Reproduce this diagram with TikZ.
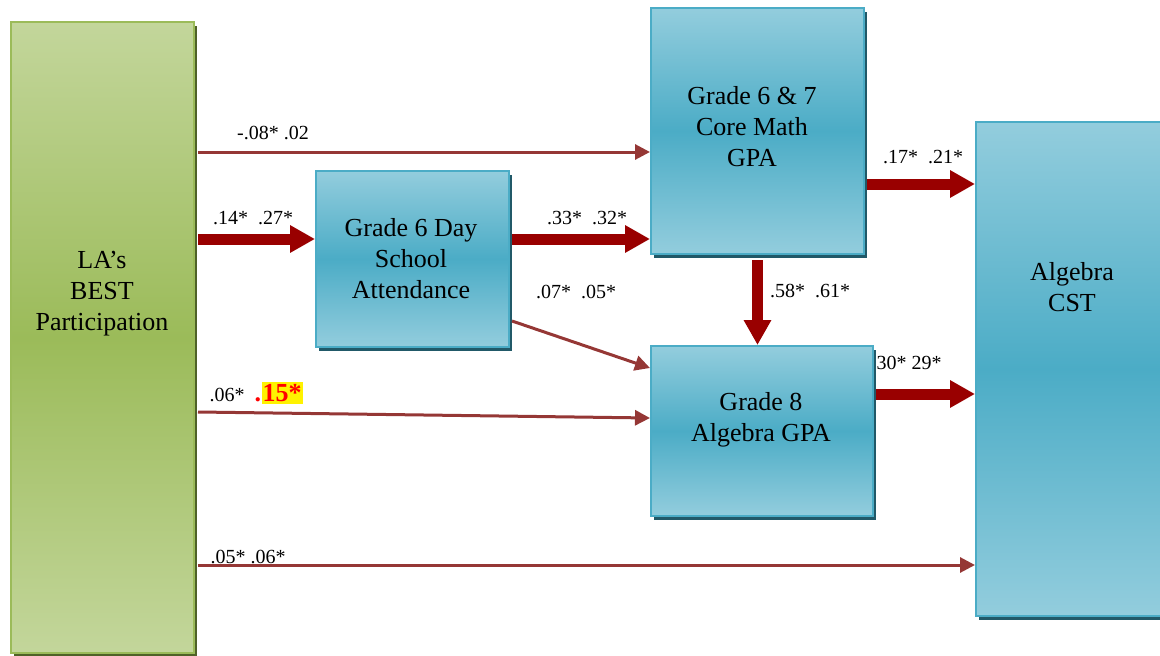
\documentclass[tikz,border=0pt]{standalone}
\usepackage{fontspec}
\setmainfont{Liberation Serif}
\usetikzlibrary{arrows.meta,shadows}
\definecolor{bluetop}{HTML}{93CDDD}
\definecolor{bluemid}{HTML}{4BACC6}
\definecolor{blueedge}{HTML}{4BACC6}
\definecolor{blueshadow}{HTML}{215968}
\definecolor{greentop}{HTML}{C3D69B}
\definecolor{greenmid}{HTML}{9BBB59}
\definecolor{greenshadow}{HTML}{4F6228}
\definecolor{thickred}{HTML}{990000}
\definecolor{thinred}{HTML}{953735}
\begin{document}
\begin{tikzpicture}[x=1pt,y=-1pt,
  bluebox/.style={draw=blueedge, line width=2pt, top color=bluetop, bottom color=bluetop, middle color=bluemid,
    anchor=north west, inner sep=0pt,
    drop shadow={shadow xshift=3pt,shadow yshift=-4pt,fill=blueshadow,opacity=1}},
  greenbox/.style={draw=greenmid, line width=2pt, top color=greentop, bottom color=greentop, middle color=greenmid,
    anchor=north west, inner sep=0pt,
    drop shadow={shadow xshift=3pt,shadow yshift=-4pt,fill=greenshadow,opacity=1}},
  boxtext/.style={font=\fontsize{26}{31}\selectfont, align=center, inner sep=0pt},
  lab/.style={font=\fontsize{20}{24}\selectfont, inner sep=0pt},
  thinarrow/.style={draw=thinred, line width=3pt, -{Triangle[length=15pt,width=15pt]}},
  thickarrow/.style={draw=thickred, line width=11pt, -{Triangle[length=25pt,width=26pt]}}]
\useasboundingbox (0,0) rectangle (1160,656);

% boxes
\node[greenbox, minimum width=183pt, minimum height=631pt] (green) at (10,21) {};
\node[bluebox, minimum width=193pt, minimum height=176pt] (att) at (315,170) {};
\node[bluebox, minimum width=213pt, minimum height=246pt] (core) at (650,7) {};
\node[bluebox, minimum width=222pt, minimum height=170pt] (agpa) at (650,345) {};
\node[bluebox, minimum width=185pt, minimum height=494pt] (cst) at (975,121) {};

% box texts
\node[boxtext] (tgreen) at (102,294) {LA’s\\BEST\\Participation};
\node[boxtext] (tatt) at (411,259) {Grade 6 Day\\School\\Attendance};
\node[boxtext] (tcore) at (752,127) {Grade 6 \& 7\\Core Math\\GPA};
\node[boxtext] (tagpa) at (761,420) {Grade 8\\Algebra GPA};
\node[boxtext] (tcst) at (1072,287) {Algebra\\CST};

% level coordinates
\coordinate (y152) at (0,152);
\coordinate (y239) at (0,239);
\coordinate (y321) at (0,321);
\coordinate (y368) at (0,368);
\coordinate (y412) at (0,412);
\coordinate (y418) at (0,418);
\coordinate (y565) at (0,565);
\coordinate (y184) at (0,184);
\coordinate (y394) at (0,394);

% connectors
\draw[thinarrow] ([xshift=3pt]green.east |- y152) -- (core.west |- y152);
\draw[thickarrow] ([xshift=3pt]green.east |- y239) -- (att.west |- y239);
\draw[thickarrow] ([xshift=2pt]att.east |- y239) -- (core.west |- y239);
\draw[thinarrow] ([xshift=2pt]att.east |- y321) -- (agpa.west |- y368);
\draw[thinarrow] ([xshift=3pt]green.east |- y412) -- (agpa.west |- y418);
\draw[thinarrow] ([xshift=3pt]green.east |- y565) -- (cst.west |- y565);
\draw[thickarrow] ([xshift=2pt]core.east |- y184) -- (cst.west |- y184);
\draw[thickarrow] ([xshift=2pt]agpa.east |- y394) -- (cst.west |- y394);
\draw[thickarrow] ([yshift=-5pt]core.south) -- (core.south |- agpa.north);

% labels
\node[lab] (l1) at (273,133) {-.08* .02};
\node[lab] (l2) at (253,218) {.14*\ \ .27*};
\node[lab] (l3) at (587,218) {.33*\ \ .32*};
\node[lab] (l4) at (576,292) {.07*\ \ .05*};
\node[lab] (l5) at (227,395) {.06*};
\node[lab, fill=yellow, text=red, font=\fontsize{26}{28}\selectfont\bfseries, inner xsep=1pt, inner ysep=2pt] (l6) at (282,393) {15*};
\node[lab, anchor=base east, text=red, font=\fontsize{26}{28}\selectfont\bfseries] (l6dot) at (l6.base west) {.};
\node[lab] (l7) at (248,557) {.05* .06*};
\node[lab] (l8) at (923,157) {.17*\ \ .21*};
\node[lab] (l9) at (909,363) {30* 29*};
\node[lab] (l10) at (810,291) {.58*\ \ .61*};
\end{tikzpicture}
\end{document}
